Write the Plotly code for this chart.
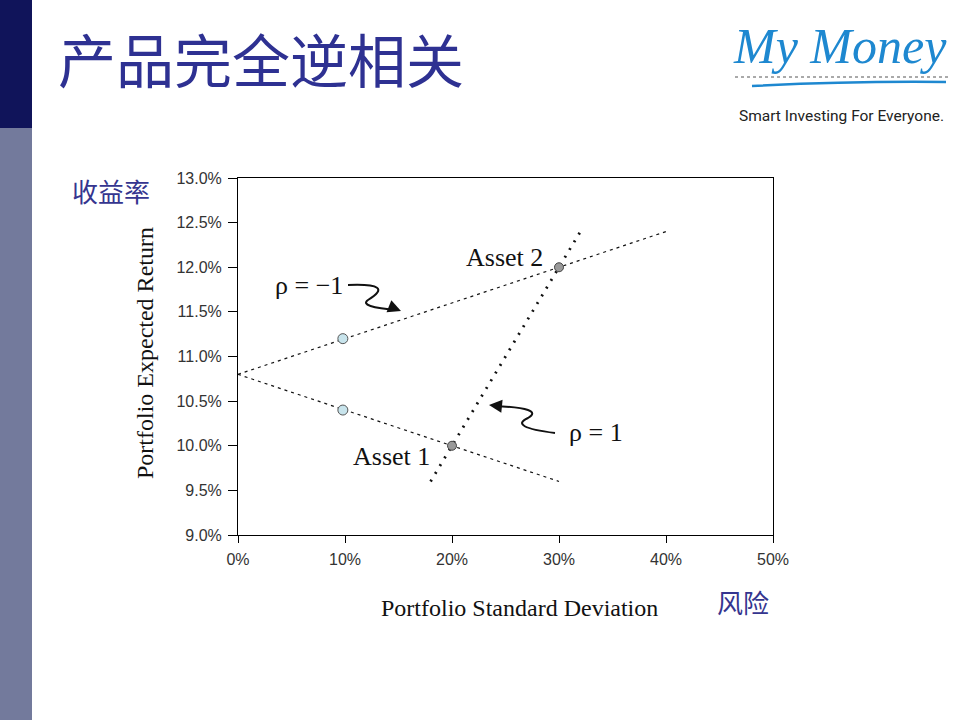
import plotly.graph_objects as go

# ---- data (percent units) ----
neg_upper_x = [0.0, 30.0, 40.0]                 # rho = -1, upper branch
neg_upper_y = [10.8, 12.0, 12.4]
neg_lower_x = [0.0, 20.0, 30.0]                 # rho = -1, lower branch
neg_lower_y = [10.8, 10.0, 9.6]
pos_x = [18.0, 20.0, 30.0, 32.0]                # rho = 1 line
pos_y = [9.6, 10.0, 12.0, 12.4]
asset_x = [20.0, 30.0]
asset_y = [10.0, 12.0]
asset_names = ["Asset 1", "Asset 2"]
mix_x = [9.8, 9.8]
mix_y = [11.2, 10.4]
x_ticks = [0, 10, 20, 30, 40, 50]
y_ticks = [9.0, 9.5, 10.0, 10.5, 11.0, 11.5, 12.0, 12.5, 13.0]

W, H = 960, 720
L, R, T, B = 238, 773, 178, 535


def px(xp):
    return (xp - L) / (R - L)


def py(yp):
    return (B - yp) / (B - T)


fig = go.Figure()
fig.add_trace(go.Scatter(x=neg_upper_x, y=neg_upper_y, mode="lines",
                         line=dict(color="#111", width=1.2, dash="3px,4px"), hoverinfo="skip"))
fig.add_trace(go.Scatter(x=neg_lower_x, y=neg_lower_y, mode="lines",
                         line=dict(color="#111", width=1.2, dash="3px,4px"), hoverinfo="skip"))
fig.add_trace(go.Scatter(x=pos_x, y=pos_y, mode="lines",
                         line=dict(color="#111", width=2.8, dash="2px,7px"), hoverinfo="skip"))
fig.add_trace(go.Scatter(x=mix_x, y=mix_y, mode="markers",
                         marker=dict(color="#c8e4ec", size=10, symbol="circle",
                                     line=dict(color="#555", width=1)), hoverinfo="skip"))
fig.add_trace(go.Scatter(x=asset_x, y=asset_y, mode="markers",
                         marker=dict(color="#9a9a9a", size=9,
                                     line=dict(color="#444", width=1)), hoverinfo="skip"))

shapes = [
    # sidebar
    dict(type="rect", xref="paper", yref="paper", x0=px(0), x1=px(32), y0=py(0), y1=py(128),
         fillcolor="#10145a", line=dict(width=0), layer="below"),
    dict(type="rect", xref="paper", yref="paper", x0=px(0), x1=px(32), y0=py(128), y1=py(720),
         fillcolor="#737a9c", line=dict(width=0), layer="below"),
    # logo dotted line and swoosh
    dict(type="line", xref="paper", yref="paper", x0=px(735), x1=px(948), y0=py(77), y1=py(77),
         line=dict(color="#555", width=1, dash="dot")),
    dict(type="path", xref="paper", yref="paper",
         path=f"M {px(752)},{py(86)} Q {px(850)},{py(81)} {px(946)},{py(82)}",
         line=dict(color="#1e88d0", width=2.5)),
    # squiggle arrows
    dict(type="path", xref="paper", yref="paper",
         path=(f"M {px(348)},{py(285)} Q {px(396)},{py(283)} {px(368)},{py(300)} "
               f"Q {px(358)},{py(307)} {px(398)},{py(310)}"),
         line=dict(color="#111", width=2)),
    dict(type="path", xref="paper", yref="paper",
         path=(f"M {px(555)},{py(433)} Q {px(508)},{py(427)} {px(528)},{py(418)} "
               f"Q {px(545)},{py(408)} {px(494)},{py(406)}"),
         line=dict(color="#111", width=2)),
]

serif = "Liberation Serif, Times New Roman, serif"
annotations = [
    dict(text="产品完全逆相关", xref="paper", yref="paper", x=px(56), y=py(58),
         xanchor="left", yanchor="middle", showarrow=False,
         font=dict(family="Noto Sans CJK SC", size=58, color="#2e3192")),
    dict(text="<i>My Money</i>", xref="paper", yref="paper", x=px(840), y=py(46),
         xanchor="center", yanchor="middle", showarrow=False,
         font=dict(family=serif, size=50, color="#1e88d0")),
    dict(text="Smart Investing For Everyone.", xref="paper", yref="paper", x=px(841), y=py(116),
         xanchor="center", yanchor="middle", showarrow=False,
         font=dict(family="Roboto, Liberation Sans, sans-serif", size=15.5, color="#222")),
    dict(text="收益率", xref="paper", yref="paper", x=px(111), y=py(190),
         xanchor="center", yanchor="middle", showarrow=False,
         font=dict(family="Noto Sans CJK SC", size=26, color="#35358f")),
    dict(text="风险", xref="paper", yref="paper", x=px(743), y=py(601),
         xanchor="center", yanchor="middle", showarrow=False,
         font=dict(family="Noto Sans CJK SC", size=26, color="#35358f")),
    dict(text="Portfolio Standard Deviation", xref="paper", yref="paper", x=px(519), y=py(608),
         xanchor="center", yanchor="middle", showarrow=False,
         font=dict(family=serif, size=24, color="#111")),
    dict(text="Portfolio Expected Return", xref="paper", yref="paper", x=px(145), y=py(353),
         xanchor="center", yanchor="middle", showarrow=False, textangle=-90,
         font=dict(family=serif, size=24, color="#111")),
    dict(text=asset_names[1], x=asset_x[1], y=asset_y[1], xref="x", yref="y",
         xanchor="right", yanchor="middle", xshift=-14, yshift=10, showarrow=False,
         font=dict(family=serif, size=26, color="#111")),
    dict(text=asset_names[0], x=asset_x[0], y=asset_y[0], xref="x", yref="y",
         xanchor="right", yanchor="middle", xshift=-20, yshift=-11, showarrow=False,
         font=dict(family=serif, size=26, color="#111")),
    dict(text="ρ = −1", xref="paper", yref="paper", x=px(309), y=py(285),
         xanchor="center", yanchor="middle", showarrow=False,
         font=dict(family=serif, size=26, color="#111")),
    dict(text="ρ = 1", xref="paper", yref="paper", x=px(596), y=py(432),
         xanchor="center", yanchor="middle", showarrow=False,
         font=dict(family=serif, size=26, color="#111")),
    # arrow heads
    dict(text="", xref="paper", yref="paper", x=px(401), y=py(311), ax=-10, ay=-4,
         showarrow=True, arrowhead=2, arrowsize=1.3, arrowwidth=2, arrowcolor="#111"),
    dict(text="", xref="paper", yref="paper", x=px(489), y=py(405), ax=10, ay=1,
         showarrow=True, arrowhead=2, arrowsize=1.3, arrowwidth=2, arrowcolor="#111"),
]

tick_font = dict(family="Liberation Sans, Arial, sans-serif", size=16, color="#333")
fig.update_layout(
    width=W, height=H,
    margin=dict(l=L, r=W - R, t=T, b=H - B),
    paper_bgcolor="white", plot_bgcolor="white",
    showlegend=False,
    shapes=shapes, annotations=annotations,
    xaxis=dict(range=[0, 50], tickvals=x_ticks, ticktext=[f"{v}%" for v in x_ticks],
               showgrid=False, zeroline=False, showline=True, linecolor="#000", linewidth=1,
               mirror=True, ticks="outside", ticklen=7, tickcolor="#000", ticklabelstandoff=3,
               tickfont=tick_font),
    yaxis=dict(range=[9.0, 13.0], tickvals=y_ticks, ticktext=[f"{v:.1f}%" for v in y_ticks],
               showgrid=False, zeroline=False, showline=True, linecolor="#000", linewidth=1,
               mirror=True, ticks="outside", ticklen=9, tickcolor="#000", ticklabelstandoff=3,
               tickfont=tick_font),
)

fig.write_html("out.html", config={"displayModeBar": False},
               post_script="document.body.style.margin='0';")
